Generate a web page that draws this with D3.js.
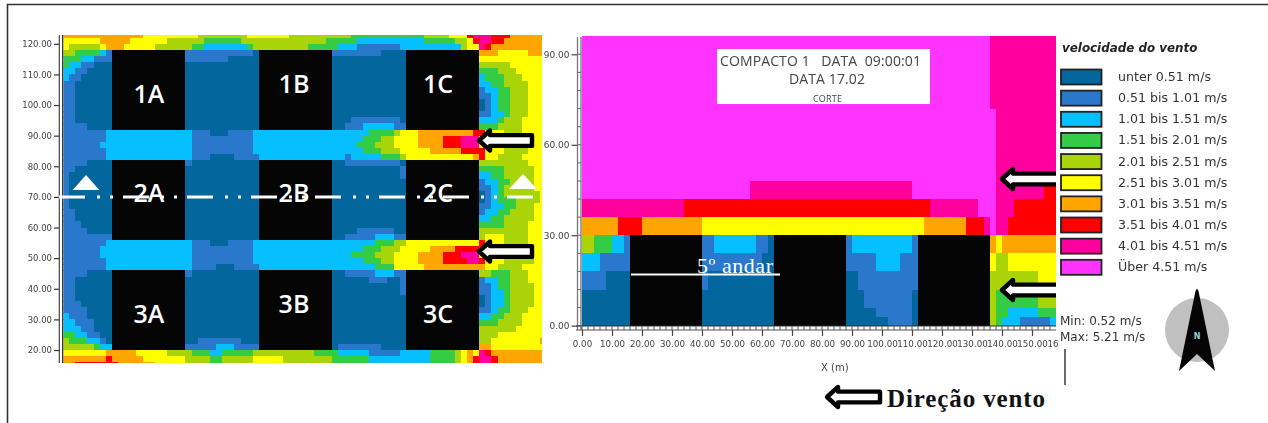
<!DOCTYPE html>
<html><head><meta charset="utf-8">
<script src="https://cdn.jsdelivr.net/npm/d3@7"></script>
<style>
html,body{margin:0;padding:0;background:#fff}
svg{display:block}
text{white-space:pre}
</style></head><body><svg id="c" width="1268" height="423"></svg>
<script>
const classColors=["#03669c","#2a78cb","#05bfff","#33cc44","#a8d408","#ffff00","#ffa500","#ff0000","#ff009f","#ff33ff"];
const legendLabels=["unter 0.51 m/s","0.51 bis 1.01 m/s","1.01 bis 1.51 m/s","1.51 bis 2.01 m/s","2.01 bis 2.51 m/s","2.51 bis 3.01 m/s","3.01 bis 3.51 m/s","3.51 bis 4.01 m/s","4.01 bis 4.51 m/s","Über 4.51 m/s"];
const planTicks=[20,30,40,50,60,70,80,90,100,110,120];
const sectionYTicks=[0,30,60,90];
const sectionXTicks=[0,10,20,30,40,50,60,70,80,90,100,110,120,130,140,150,160];
const planBuildings=[["1A",16,40,92,118],["1B",64,88,92,118],["1C",112,136,92,118],["2A",16,40,56,82],["2B",64,88,56,82],["2C",112,136,56,82],["3A",16,40,20,46],["3B",64,88,20,46],["3C",112,136,20,46]];
const sectionBuildings=[[16,40],[64,88],[112,136]];
// plan view: lower edge of a 2 m row -> runs "class:endColumn" (columns are 2 m wide)
const planRows=[
[122,"6:13 5:22 4:30 5:37 4:47 3:59 4:63 5:66 7:67 8:70 7:73 6:79"],
[120,"5:6 6:11 5:17 4:23 3:29 4:43 3:48 2:59 3:64 4:66 5:67 7:68 8:70 7:72 6:79"],
[118,"5:1 4:6 5:7 6:10 5:15 4:21 3:23 2:30 3:31 4:40 3:45 2:48 1:55 2:65 4:66 5:68 8:69 7:70 6:79"],
[116,"4:2 3:6 2:7 1:31 0:44 1:52 0:68 6:71 5:76 6:79"],
[114,"3:3 2:5 1:27 0:68 5:79"],
[112,"3:1 2:3 1:5 0:68 4:73 5:79"],
[110,"2:2 1:4 0:68 3:71 4:74 5:79"],
[108,"2:1 1:3 0:68 2:69 3:72 4:75 5:79"],
[106,"1:2 0:68 2:70 3:72 4:76 5:79"],
[104,"1:2 0:68 1:69 2:71 3:73 4:76 5:79"],
[102,"1:2 0:68 1:70 2:71 3:73 4:76 5:79"],
[100,"1:2 0:69 1:70 2:71 3:73 4:76 5:79"],
[98,"1:2 0:69 1:70 2:71 3:73 4:76 5:79"],
[96,"1:2 0:68 1:70 2:72 3:73 4:76 5:79"],
[94,"1:2 0:47 1:55 0:68 2:71 3:72 4:75 5:79"],
[92,"1:4 0:46 1:49 2:54 1:56 0:68 3:71 4:75 5:79"],
[90,"1:7 2:21 1:24 0:27 1:31 2:50 3:54 4:55 5:58 6:67 7:69 5:72 4:75 5:79"],
[88,"1:7 2:21 1:31 2:49 3:52 4:54 5:58 6:62 7:65 8:68 5:72 4:76 5:79"],
[86,"1:6 2:21 1:31 2:48 3:51 4:54 5:58 6:62 7:65 8:68 5:72 4:76 5:79"],
[84,"1:7 2:21 1:31 2:49 3:52 4:55 5:60 6:65 7:69 5:72 4:76 5:79"],
[82,"1:7 2:21 1:24 0:28 1:32 2:46 1:47 2:52 3:55 4:56 5:67 6:68 7:69 5:71 4:75 5:79"],
[80,"1:4 0:20 1:21 0:46 1:55 0:68 4:76 5:79"],
[78,"1:2 0:55 1:56 0:68 3:72 4:77 5:79"],
[76,"1:1 0:55 1:56 0:68 2:70 3:72 4:77 5:79"],
[74,"1:1 0:68 1:69 2:71 3:73 4:77 5:79"],
[72,"1:1 0:68 1:70 2:71 3:72 4:77 5:79"],
[70,"1:1 0:69 1:70 2:71 3:72 4:78 5:79"],
[68,"1:1 0:69 1:70 2:71 3:74 4:78 5:79"],
[66,"1:1 0:68 1:70 2:72 3:74 4:77 5:79"],
[64,"1:2 0:68 1:69 2:71 3:73 4:77 5:79"],
[62,"1:2 0:68 2:70 3:72 4:77 5:79"],
[60,"1:3 0:68 3:72 4:76 5:79"],
[58,"1:4 0:48 1:54 0:68 4:76 5:79"],
[56,"1:8 0:46 1:51 2:54 1:56 0:68 4:69 5:72 4:76 5:79"],
[54,"1:7 2:21 1:24 0:27 1:31 2:51 3:54 4:56 5:68 7:69 5:72 4:76 5:79"],
[52,"1:6 2:21 1:31 2:49 3:52 4:55 5:60 6:64 7:69 5:72 4:76 5:79"],
[50,"1:6 2:21 1:31 2:47 3:51 4:54 5:58 6:62 7:65 8:68 5:72 4:77 5:79"],
[48,"1:7 2:21 1:31 2:49 3:52 4:54 5:58 6:62 7:66 8:68 7:69 5:72 4:77 5:79"],
[46,"1:7 2:21 1:25 0:28 1:32 2:51 3:54 5:59 6:69 5:71 4:75 5:79"],
[44,"1:4 0:20 1:21 0:46 1:51 2:54 1:56 0:68 4:70 3:73 4:76 5:79"],
[42,"1:2 0:50 1:53 0:55 1:56 0:68 1:69 2:71 3:73 4:76 5:79"],
[40,"1:2 0:55 1:56 0:68 1:70 2:71 3:73 4:77 5:79"],
[38,"1:2 0:55 1:56 0:68 1:70 2:72 3:73 4:77 5:79"],
[36,"1:2 0:69 1:70 2:72 3:73 4:77 5:79"],
[34,"1:3 0:69 1:70 2:72 3:73 4:77 5:79"],
[32,"1:4 0:68 1:70 2:71 3:73 4:76 5:79"],
[30,"2:1 1:4 0:68 2:70 3:72 4:75 5:79"],
[28,"2:2 1:5 0:68 3:71 4:75 5:79"],
[26,"2:3 1:5 0:68 4:74 5:79"],
[24,"3:2 2:4 1:6 0:68 4:71 5:79"],
[22,"4:1 3:4 2:6 1:7 0:22 1:29 0:68 4:70 5:78 6:79"],
[20,"4:5 3:6 2:8 1:25 2:28 1:32 0:45 1:52 0:68 6:70 5:79"],
[18,"5:7 6:12 5:17 4:21 3:24 2:26 3:31 4:41 3:45 2:50 1:55 2:60 3:64 4:65 5:66 6:67 5:68 8:69 7:70 6:79"],
[16,"6:7 7:8 6:13 5:20 4:24 3:26 4:31 5:36 4:44 3:50 2:60 3:64 4:65 5:66 6:67 7:68 8:70 7:71 6:79"],
[14,"6:2 7:9 6:15 5:20 4:24 3:26 4:31 5:36 4:44 3:50 2:60 3:64 4:65 5:66 6:67 7:68 8:70 7:71 6:79"]
];
// section view: [lower y, upper y, runs "class:endMetre"]
const sectionRows=[
[72,96,"9:136 8:158"],
[48,72,"9:138 8:158"],
[42,48,"9:56 8:110 9:138 8:154 7:158"],
[36,42,"8:34 7:116 8:132 9:138 8:144 7:158"],
[30,36,"6:12 7:20 6:40 5:114 6:128 7:134 8:136 9:138 8:142 7:158"],
[24,30,"4:4 3:10 2:14 1:16 0:40 1:44 2:58 1:62 0:88 1:90 2:110 1:112 0:136 6:138 5:140 6:158"],
[18,24,"2:6 1:16 0:40 1:60 0:88 1:98 2:106 1:112 0:136 5:138 4:142 5:158"],
[12,18,"1:8 0:40 1:42 0:92 1:112 0:136 4:152 5:158"],
[6,12,"0:94 1:110 0:136 4:138 3:152 4:158"],
[3,6,"0:98 1:110 0:136 4:138 3:142 2:152 3:158"],
[0,3,"0:102 1:110 0:136 4:138 3:140 2:146 1:156 2:158"]
];
const parseRuns=s=>{let start=0;return s.split(" ").map(t=>{const [k,e]=t.split(":").map(Number);const r={k,start,end:e};start=e;return r;});};

const svg=d3.select("#c");
// frame
svg.append("path").attr("d","M7.5,423V4.5H1268").attr("fill","none").attr("stroke","#333").attr("stroke-width",1.6);

const defs=svg.append("defs");
defs.append("clipPath").attr("id","planClip").append("rect").attr("x",63.5).attr("y",35).attr("width",478.5).attr("height",328);
const softA=defs.append("filter").attr("id","soft");softA.append("feGaussianBlur").attr("stdDeviation",0.3);

// PLAN
const xP=d3.scaleLinear().domain([0,156.5]).range([63,542]);
const yP=d3.scaleLinear().domain([20,120]).range([350,43.8]);
const gP=svg.append("g").attr("clip-path","url(#planClip)").attr("shape-rendering","crispEdges");
planRows.forEach(([y,runs])=>{
  gP.selectAll(null).data(parseRuns(runs)).join("rect")
    .attr("x",d=>xP(d.start*2)).attr("width",d=>xP(d.end*2)-xP(d.start*2)+0.5)
    .attr("y",yP(y+2)).attr("height",yP(y)-yP(y+2)+0.5)
    .attr("fill",d=>classColors[d.k]);
});
gP.selectAll("rect.b").data(planBuildings).join("rect").attr("class","b")
  .attr("x",d=>xP(d[1])).attr("width",d=>xP(d[2])-xP(d[1]))
  .attr("y",d=>yP(d[4])).attr("height",d=>yP(d[3])-yP(d[4])).attr("fill","#050505");
const tc="#444";
const axP=d3.axisLeft(yP).tickValues(planTicks).tickFormat(d3.format(".2f")).tickSize(5).tickPadding(2);
const gAxP=svg.append("g").attr("transform","translate(59,0)").call(axP);
gAxP.select(".domain").remove();
gAxP.selectAll("line").attr("stroke","#333").attr("stroke-width",1.2);
gAxP.selectAll("text").attr("font-family","DejaVu Sans").attr("font-size",8.5).attr("fill",tc).attr("filter","url(#soft)");
svg.append("line").attr("x1",59.3).attr("x2",59.3).attr("y1",35).attr("y2",363).attr("stroke","#444").attr("stroke-width",1.2);
svg.append("line").attr("x1",62.7).attr("x2",62.7).attr("y1",35).attr("y2",363).attr("stroke","#222").attr("stroke-width",1.2);

// labels of buildings: nudged off the building centres as in the source image
const labelX={A:149,B:294,C:438};
const labelY={"1A":103,"1B":93,"1C":93,"2A":202,"2B":202,"2C":202,"3A":323,"3B":313,"3C":323};
svg.selectAll("text.bl").data(planBuildings).join("text").attr("class","bl")
  .attr("x",d=>labelX[d[0][1]]).attr("y",d=>labelY[d[0]]).attr("text-anchor","middle")
  .attr("font-family","Open Sans").attr("font-weight",600).attr("font-size",25).attr("fill","#fff").text(d=>d[0]);
// section line
svg.append("line").attr("x1",59).attr("x2",533).attr("y1",197).attr("y2",197).attr("stroke","#fff").attr("stroke-width",3).attr("stroke-dasharray","26 12 3 10 3 10");
[[86,175,13.3,15],[523,174,14,15]].forEach(([x,y,w,h])=>svg.append("path").attr("d",`M${x},${y}L${x+w},${y+h}H${x-w}Z`).attr("fill","#fff"));

// SECTION
const xS=d3.scaleLinear().domain([0,158]).range([582,1056]);
const yS=d3.scaleLinear().domain([0,90]).range([325.7,54.3]);
const gS=svg.append("g").attr("shape-rendering","crispEdges");
sectionRows.forEach(([y0,y1,runs])=>{
  gS.selectAll(null).data(parseRuns(runs)).join("rect")
    .attr("x",d=>xS(d.start)).attr("width",d=>xS(d.end)-xS(d.start))
    .attr("y",yS(y1)).attr("height",yS(y0)-yS(y1)+0.5)
    .attr("fill",d=>classColors[d.k]);
});
gS.selectAll("rect.b").data(sectionBuildings).join("rect").attr("class","b")
  .attr("x",d=>xS(d[0])).attr("width",d=>xS(d[1])-xS(d[0]))
  .attr("y",yS(30)).attr("height",yS(0)-yS(30)).attr("fill","#050505");

// axes
const axSY=d3.axisLeft(yS).tickValues(sectionYTicks).tickFormat(d3.format(".2f")).tickSize(6).tickPadding(2);
const gSY=svg.append("g").attr("transform","translate(577.5,0)").call(axSY);
gSY.select(".domain").remove();
gSY.selectAll("line").attr("stroke","#444").attr("stroke-width",1.2);
gSY.selectAll("text").attr("font-family","DejaVu Sans").attr("font-size",9).attr("fill",tc).attr("filter","url(#soft)");
svg.append("line").attr("x1",577.5).attr("x2",577.5).attr("y1",37).attr("y2",330).attr("stroke","#777").attr("stroke-width",1.3);
svg.append("line").attr("x1",581).attr("x2",581).attr("y1",37).attr("y2",330).attr("stroke","#666").attr("stroke-width",1.2);
const gYm=svg.append("g");
gYm.selectAll("line").data(d3.range(0,96,6)).join("line").attr("x1",577.5).attr("x2",581).attr("y1",d=>yS(d)).attr("y2",d=>yS(d)).attr("stroke","#666");

const gSX=svg.append("g").attr("transform","translate(0,330)");
gSX.call(d3.axisBottom(xS).tickValues(sectionXTicks).tickFormat(d=>d===160?"16":d3.format(".2f")(d)).tickSize(6).tickPadding(5));
gSX.select(".domain").remove();
gSX.selectAll("line").attr("stroke","#444").attr("stroke-width",1.2).attr("opacity",d=>d===160?0:1);
gSX.selectAll("text").attr("font-family","DejaVu Sans").attr("font-size",8.7).attr("fill",tc).attr("filter","url(#soft)")
  .attr("text-anchor",d=>d===160?"end":"middle").attr("dx",d=>d===160?-4:0);
svg.append("line").attr("x1",576).attr("x2",1056).attr("y1",326).attr("y2",326).attr("stroke","#333").attr("stroke-width",1.2);
svg.append("line").attr("x1",576).attr("x2",1056).attr("y1",330).attr("y2",330).attr("stroke","#555").attr("stroke-width",1.2);
svg.append("g").selectAll("line").data(d3.range(0,158,2)).join("line").attr("x1",d=>xS(d)).attr("x2",d=>xS(d)).attr("y1",326).attr("y2",330).attr("stroke","#555");
svg.append("text").attr("x",821).attr("y",371).attr("font-family","DejaVu Sans").attr("font-size",10).attr("fill",tc).attr("filter","url(#soft)").text("X (m)");

// text box
svg.append("rect").attr("x",717).attr("y",49).attr("width",213).attr("height",55).attr("fill","#fff");
const box=(x,y,s,t,len)=>{const e=svg.append("text").attr("x",x).attr("y",y).attr("font-family","Open Sans").attr("font-size",s).attr("fill","#444").attr("filter","url(#soft)").text(t);if(len)e.attr("textLength",len).attr("lengthAdjust","spacing");};
box(720,66,14,"COMPACTO 1   DATA  09:00:01",201);
box(789,83.5,14,"DATA 17.02",76);
box(813,102,9,"CORTE",29);

// 5º andar
svg.append("text").attr("x",697).attr("y",273).attr("font-family","Liberation Serif").attr("font-size",22).attr("fill","#fff").attr("textLength",76).text("5º andar");
svg.append("line").attr("x1",631).attr("x2",780).attr("y1",274.5).attr("y2",274.5).attr("stroke","#fff").attr("stroke-width",2);

// arrows
const arrow=(x,y,clip)=>{const g=svg.append("g");if(clip)g.attr("clip-path","url(#arrClip)");
 g.append("path").attr("d",`M${x+3},${y}L${x+14},${y-10}V${y-5.4}H${x+(clip?70:56)}V${y+5.4}H${x+14}V${y+10}Z`)
  .attr("fill","#fff").attr("stroke","#000").attr("stroke-width",4.4).attr("stroke-linejoin","round");};
defs.append("clipPath").attr("id","arrClip").append("rect").attr("x",0).attr("y",0).attr("width",1056).attr("height",423);
arrow(476,140.5);arrow(476,251.5);arrow(999,179,true);arrow(999,290,true);arrow(824,397);

svg.append("text").attr("x",887).attr("y",406.5).attr("font-family","Liberation Serif").attr("font-weight",700).attr("font-size",25).attr("fill","#111").attr("textLength",158).text("Direção vento");

// legend
svg.append("text").attr("x",1062).attr("y",52).attr("font-family","DejaVu Sans").attr("font-weight",700).attr("font-style","italic").attr("font-size",11.9).attr("fill","#222").attr("filter","url(#soft)").text("velocidade do vento");
const legY=d3.scalePoint().domain(d3.range(10)).range([77,267.3]);
const gL=svg.append("g");
gL.selectAll("rect").data(classColors).join("rect").attr("x",1061).attr("y",(d,i)=>legY(i)-7.5).attr("width",40.5).attr("height",15).attr("fill",d=>d).attr("stroke","#222").attr("stroke-width",1.8);
gL.selectAll("text").data(legendLabels).join("text").attr("x",1118).attr("y",(d,i)=>legY(i)+4).attr("font-family","DejaVu Sans").attr("font-size",12.6).attr("fill","#333").attr("filter","url(#soft)").text(d=>d);

[["Min: 0.52 m/s",325],["Max: 5.21 m/s",341]].forEach(([t,y])=>svg.append("text").attr("x",1060).attr("y",y).attr("font-family","DejaVu Sans").attr("font-size",12).attr("fill","#333").attr("filter","url(#soft)").text(t));
svg.append("line").attr("x1",1065).attr("x2",1065).attr("y1",349).attr("y2",385).attr("stroke","#444").attr("stroke-width",1.6);

// compass
svg.append("circle").attr("cx",1197).attr("cy",330).attr("r",32).attr("fill","#c0c0c0");
svg.append("path").attr("d","M1195.5,291L1197,288.5L1198.5,291L1215,371L1197,354L1179,371Z").attr("fill","#050505");
svg.append("text").attr("x",1197).attr("y",339).attr("text-anchor","middle").attr("font-family","DejaVu Sans").attr("font-weight",700).attr("font-size",8).attr("fill","#9cc").text("N");
</script></body></html>
